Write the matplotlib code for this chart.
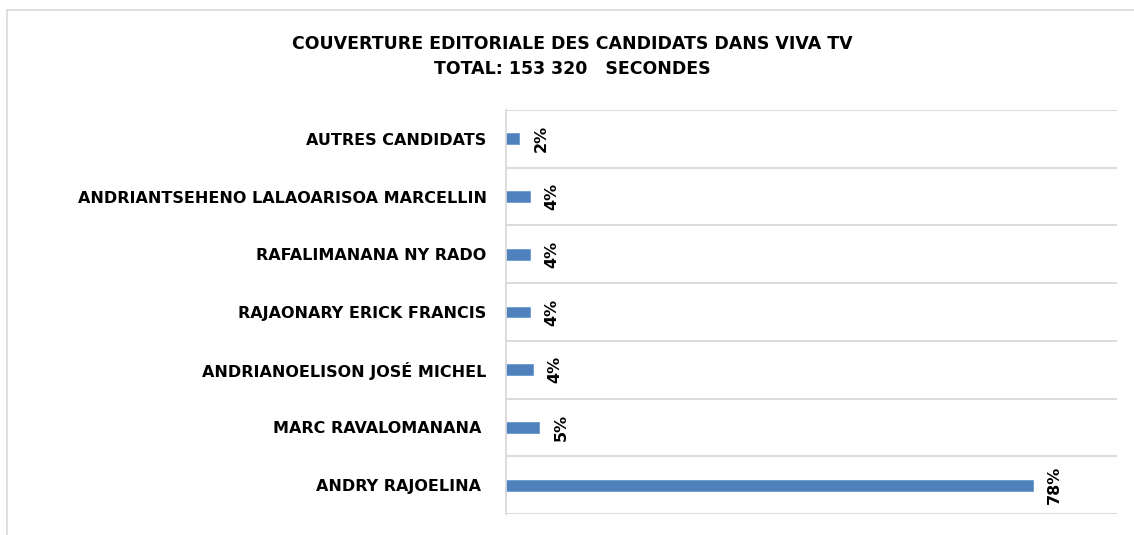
import matplotlib.pyplot as plt
import numpy as np
from matplotlib.patches import Rectangle

# données
candidats = ["ANDRY RAJOELINA ", "MARC RAVALOMANANA ", "ANDRIANOELISON JOSÉ MICHEL",
             "RAJAONARY ERICK FRANCIS", "RAFALIMANANA NY RADO",
             "ANDRIANTSEHENO LALAOARISOA MARCELLIN", "AUTRES CANDIDATS"]
parts = [78.0, 4.9, 4.0, 3.5, 3.6, 3.5, 1.9]
etiquettes = ["78%", "5%", "4%", "4%", "4%", "4%", "2%"]

titre = "COUVERTURE EDITORIALE DES CANDIDATS DANS VIVA TV\nTOTAL: 153 320   SECONDES"

plt.rcParams['font.family'] = ['DejaVu Sans']

fig = plt.figure(figsize=(11.34, 5.35), dpi=100)
ax = fig.add_axes([506 / 1134, 21 / 535, 611 / 1134, 404 / 535])

# cadre du graphique
fig.patches.append(Rectangle((7 / 1134, -0.1), 1.2, 1.1 - 10 / 535, transform=fig.transFigure,
                             fill=False, edgecolor="#d9d9d9", linewidth=1.2))

y = np.arange(len(candidats))
ax.barh(y, parts, height=0.19, color="#4f81bd", edgecolor="#6f9bd0", linewidth=0.6)

for yi, v, t in zip(y, parts, etiquettes):
    ax.annotate(t, (v, yi), xytext=(22, 0), textcoords="offset pixels",
                rotation=90, ha="center", va="center", fontsize=11.5, fontweight="bold")

ax.set_xlim(0, 90.5)
ax.set_ylim(-0.5, len(candidats) - 0.5)
ax.set_yticks(y)
ax.set_yticklabels(candidats, fontsize=11.5, fontweight="bold")
ax.set_yticks(np.arange(-0.5, len(candidats)), minor=True)
ax.tick_params(axis="y", which="both", length=0, pad=14)
ax.set_xticks([])
ax.grid(axis="y", which="minor", color="#d9d9d9", linewidth=1.3)
for s in ["top", "right", "bottom"]:
    ax.spines[s].set_visible(False)
ax.spines["left"].set_color("#d9d9d9")
ax.spines["left"].set_linewidth(1.3)

fig.text(0.505, 1 - 57 / 535, titre, ha="center", va="center", fontsize=12.5,
         fontweight="bold", linespacing=1.5)

fig.savefig("out.png", dpi=100)
